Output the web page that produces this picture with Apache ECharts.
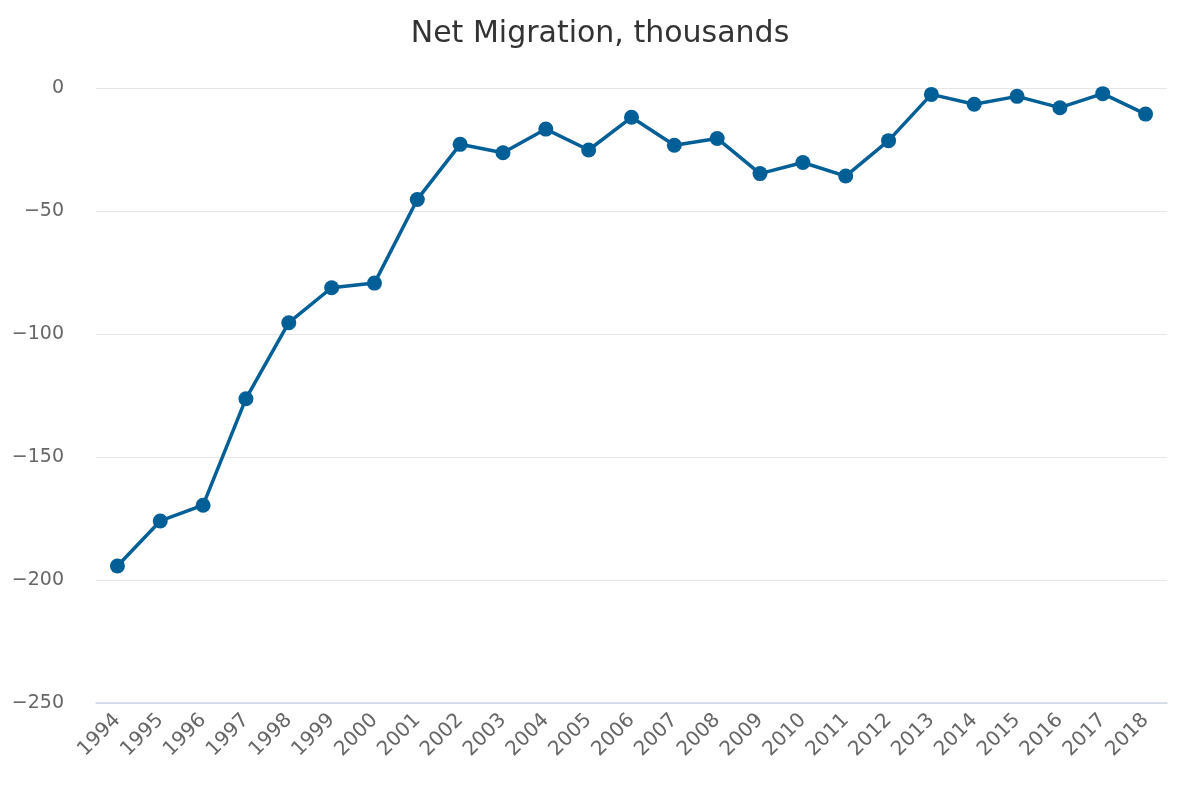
<!DOCTYPE html>
<html>
<head>
<meta charset="utf-8">
<script src="https://cdn.jsdelivr.net/npm/echarts@6/dist/echarts.min.js"></script>
<style>
  html, body { margin: 0; padding: 0; background: #fff; }
  #main { width: 1200px; height: 800px; }
</style>
</head>
<body>
<div id="main"></div>
<script>
// data
var years = ['1994','1995','1996','1997','1998','1999','2000','2001','2002','2003','2004','2005','2006',
             '2007','2008','2009','2010','2011','2012','2013','2014','2015','2016','2017','2018'];
var netMigration = [-194.3, -176, -169.6, -126.3, -95.4, -81.2, -79.3, -45.3, -22.9, -26.3, -16.7, -25.2, -11.9,
                    -23.3, -20.5, -34.8, -30.3, -35.8, -21.4, -2.6, -6.6, -3.4, -8.0, -2.3, -10.6];
var yTicks = { min: -250, max: 0, interval: 50 };

var font = 'Lucida Grande, Lucida Sans Unicode, Verdana, DejaVu Sans, sans-serif';
var chart = echarts.init(document.getElementById('main'));
chart.setOption({
  animation: false,
  title: {
    text: 'Net Migration, thousands',
    left: 'center',
    top: 14,
    textStyle: { fontFamily: font, fontSize: 30, fontWeight: 'normal', color: '#333333' }
  },
  grid: { left: 96, right: 33, top: 88, bottom: 97 },
  xAxis: {
    type: 'category',
    data: years,
    boundaryGap: true,
    z: 5,
    axisLine: { onZero: false, lineStyle: { color: '#ccd6eb', width: 1.5 } },
    axisTick: { show: false },
    axisLabel: {
      rotate: 45,
      interval: 0,
      margin: 14,
      fontFamily: font,
      fontSize: 20,
      color: '#666666'
    }
  },
  yAxis: {
    type: 'value',
    min: yTicks.min,
    max: yTicks.max,
    interval: yTicks.interval,
    axisLine: { show: false },
    axisTick: { show: false },
    splitLine: { lineStyle: { color: '#e6e6e6', width: 1 } },
    axisLabel: {
      margin: 32,
      padding: [5, 0, 0, 0],
      fontFamily: font,
      fontSize: 19,
      color: '#666666',
      formatter: function (v) { return v < 0 ? '\u2212' + Math.abs(v) : String(v); }
    }
  },
  series: [{
    type: 'line',
    data: netMigration,
    symbol: 'circle',
    symbolSize: 15,
    z: 6,
    itemStyle: { color: '#005f96' },
    lineStyle: { color: '#005f96', width: 3.5 }
  }]
});
</script>
</body>
</html>
